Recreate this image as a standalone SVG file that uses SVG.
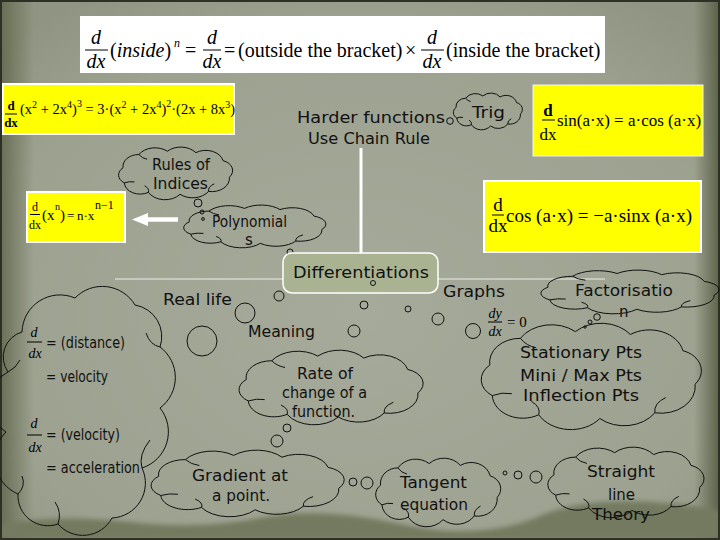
<svg xmlns="http://www.w3.org/2000/svg" width="720" height="540" viewBox="0 0 720 540">
<style>
.h{font-family:"DejaVu Sans","Liberation Sans",sans-serif;fill:#111;font-size:15px}
.m{font-family:"Liberation Serif","Times New Roman",serif;fill:#000}
.i{font-style:italic}
.b{font-weight:bold}
.bar{stroke:#000;stroke-width:1}
.bub{fill:none;stroke:#111;stroke-width:1}
.yel{fill:#ffff00;stroke:#ffffff;stroke-width:2}
</style>
<defs>
<radialGradient id="paper" cx="50%" cy="58%" r="70%">
<stop offset="0" stop-color="#a6aa9a"/>
<stop offset="0.75" stop-color="#9da190"/>
<stop offset="1" stop-color="#909482"/>
</radialGradient>
<linearGradient id="lband" x1="0" x2="1" y1="0" y2="0">
<stop offset="0" stop-color="#5f664a" stop-opacity="0.85"/>
<stop offset="1" stop-color="#5f664a" stop-opacity="0"/>
</linearGradient>
<linearGradient id="rband" x1="1" x2="0" y1="0" y2="0">
<stop offset="0" stop-color="#545a40" stop-opacity="0.9"/>
<stop offset="1" stop-color="#545a40" stop-opacity="0"/>
</linearGradient>
<filter id="soft" x="-10%" y="-10%" width="120%" height="120%"><feGaussianBlur stdDeviation="2.5"/></filter>
<path id="cloud" fill="none" stroke="#111" stroke-width="1" vector-effect="non-scaling-stroke" d="M -80,-10 A 25 25 0 0 1 -55,-38 A 30 30 0 0 1 -10,-45 A 30 30 0 0 1 35,-42 A 28 28 0 0 1 78,-25 A 22 22 0 0 1 88,10 A 28 28 0 0 1 55,40 A 30 30 0 0 1 10,46 A 30 30 0 0 1 -40,42 A 25 25 0 0 1 -78,22 A 20 20 0 0 1 -80,-10 Z M -55,-38 Q -50,-30 -42,-28 M 55,40 Q 54,30 64,24 M -40,42 Q -38,34 -46,28 M -78,22 Q -70,18 -62,20"/>
</defs>

<!-- background -->
<g id="background">
<rect x="0" y="0" width="720" height="540" fill="url(#paper)"/>
<rect x="0" y="0" width="34" height="540" fill="url(#lband)"/>
<rect x="694" y="0" width="26" height="540" fill="url(#rband)"/>
<path d="M0,540 L0,524 Q 60,514 130,522 T 260,518 T 400,524 T 540,516 T 720,510 L720,540 Z" fill="#737a5e" filter="url(#soft)"/>
<rect x="1" y="1" width="718" height="538" fill="none" stroke="#2e3026" stroke-width="2"/>
</g>

<!-- connectors -->
<g id="connectors">
<line x1="115" y1="279" x2="605" y2="279" stroke="#eeeeea" stroke-width="1.2"/>
<line x1="361" y1="253" x2="361" y2="148" stroke="#ffffff" stroke-width="3"/>
<line x1="178" y1="219.5" x2="145" y2="219.5" stroke="#ffffff" stroke-width="4.5"/>
<polygon points="132,219.5 148,213 148,226" fill="#ffffff"/>
</g>

<!-- chain rule formula -->
<g id="chain-rule-formula">
<rect x="80" y="16" width="525" height="57" fill="#ffffff"/>
<text class="m i" x="96" y="44" font-size="20" text-anchor="middle">d</text>
<line class="bar" x1="85" y1="50" x2="108" y2="50"/>
<text class="m i" x="96" y="68" font-size="20" text-anchor="middle">dx</text>
<text class="m" x="110" y="57" font-size="20">(<tspan class="i">inside</tspan>)</text>
<text class="m i" x="174" y="47" font-size="12">n</text>
<text class="m" x="185" y="57" font-size="20">=</text>
<text class="m i" x="212" y="44" font-size="20" text-anchor="middle">d</text>
<line class="bar" x1="203" y1="50" x2="221" y2="50"/>
<text class="m i" x="212" y="68" font-size="20" text-anchor="middle">dx</text>
<text class="m" x="224" y="57" font-size="20">=</text>
<text class="m" x="238" y="57" font-size="20">(outside the bracket)</text>
<text class="m" x="405" y="57" font-size="20">×</text>
<text class="m i" x="432" y="44" font-size="20" text-anchor="middle">d</text>
<line class="bar" x1="421" y1="50" x2="444" y2="50"/>
<text class="m i" x="432" y="68" font-size="20" text-anchor="middle">dx</text>
<text class="m" x="446" y="57" font-size="20">(inside the bracket)</text>
</g>

<!-- polynomial chain example -->
<g id="example-chain">
<rect class="yel" x="3" y="84" width="231" height="50"/>
<text class="m b" x="11" y="110" font-size="13" text-anchor="middle">d</text>
<line class="bar" x1="5" y1="114" x2="17" y2="114"/>
<text class="m b" x="11" y="127" font-size="13" text-anchor="middle">dx</text>
<text class="m" x="20" y="114" font-size="14.5">(x<tspan font-size="10" dy="-6">2</tspan><tspan dy="6"> + 2x</tspan><tspan font-size="10" dy="-6">4</tspan><tspan dy="6">)</tspan><tspan font-size="10" dy="-7">3</tspan><tspan dy="7">  = 3·(x</tspan><tspan font-size="10" dy="-6">2</tspan><tspan dy="6"> + 2x</tspan><tspan font-size="10" dy="-6">4</tspan><tspan dy="6">)</tspan><tspan font-size="10" dy="-7">2</tspan><tspan dy="7">·(2x + 8x</tspan><tspan font-size="10" dy="-6">3</tspan><tspan dy="6">)</tspan></text>
</g>

<!-- sin example -->
<g id="example-sin">
<rect x="533" y="85" width="170" height="71" fill="#ffff00" stroke="#f4f4e4" stroke-width="1"/>
<text class="m b" x="548" y="116" font-size="17" text-anchor="middle">d</text>
<line class="bar" x1="542" y1="120" x2="555" y2="120"/>
<text class="m" x="548" y="140" font-size="17" text-anchor="middle">dx</text>
<text class="m" x="557" y="126" font-size="17">sin(a·x) = a·cos (a·x)</text>
</g>

<!-- cos example -->
<g id="example-cos">
<rect class="yel" x="484" y="181" width="217" height="71" stroke-width="3"/>
<text class="m" x="498" y="211" font-size="19" text-anchor="middle">d</text>
<line class="bar" x1="492" y1="215" x2="504" y2="215"/>
<text class="m" x="498" y="232" font-size="19" text-anchor="middle">dx</text>
<text class="m" x="506" y="222" font-size="19">cos (a·x) = −a·sinx (a·x)</text>
</g>

<!-- power rule example -->
<g id="example-power">
<rect class="yel" x="27" y="192" width="98" height="50"/>
<text class="m" x="35" y="211" font-size="12" text-anchor="middle">d</text>
<line class="bar" x1="30" y1="214.5" x2="40" y2="214.5"/>
<text class="m" x="35" y="229" font-size="12" text-anchor="middle">dx</text>
<text class="m" x="42" y="220" font-size="15">(x</text>
<text class="m" x="55" y="210" font-size="10">n</text>
<text class="m" x="60" y="220" font-size="15">)</text>
<text class="m" x="67" y="220" font-size="13">=</text>
<text class="m" x="77" y="220" font-size="13">n·x</text>
<text class="m" x="95" y="209" font-size="12">n−1</text>
</g>

<!-- Harder functions -->
<g id="harder-functions">
<text class="h" x="297" y="123" font-size="16" textLength="148" lengthAdjust="spacingAndGlyphs">Harder functions</text>
<text class="h" x="308" y="144" font-size="16" textLength="122" lengthAdjust="spacingAndGlyphs">Use Chain Rule</text>
<circle class="bub" cx="450" cy="121" r="3.3"/>
</g>

<g id="trig">
<use href="#cloud" transform="translate(486.7,110.8) scale(0.383,0.33)"/>
<text class="h" x="472" y="118" font-size="16" textLength="33" lengthAdjust="spacingAndGlyphs">Trig</text>
</g>

<g id="rules-of-indices">
<use href="#cloud" transform="translate(173.7,172.5) scale(0.633,0.473)"/>
<text class="h" x="152" y="170" font-size="14" textLength="58" lengthAdjust="spacingAndGlyphs">Rules of</text>
<text class="h" x="153" y="189" font-size="14" textLength="55" lengthAdjust="spacingAndGlyphs">Indices</text>
<circle class="bub" cx="198" cy="203" r="4"/>
<circle class="bub" cx="202" cy="212" r="2"/>
<circle class="bub" cx="203" cy="219" r="1.4"/>
</g>

<g id="polynomials">
<use href="#cloud" transform="translate(252.4,225.7) scale(0.789,0.384)"/>
<text class="h" x="212" y="227" font-size="14" textLength="75" lengthAdjust="spacingAndGlyphs">Polynomial</text>
<text class="h" x="245" y="245" font-size="14">s</text>
<circle class="bub" cx="290" cy="252" r="3"/>
<circle class="bub" cx="309" cy="261" r="3"/>
</g>

<g id="differentiations">
<rect x="283" y="253" width="155" height="40" rx="9" fill="#a9b391" stroke="#ffffff" stroke-width="1.5"/>
<text class="h" x="293" y="278" font-size="16" textLength="136" lengthAdjust="spacingAndGlyphs">Differentiations</text>
<circle class="bub" cx="373" cy="283" r="2.5"/>
</g>

<g id="real-life">
<path fill="none" stroke="#111" stroke-width="1" d="M 22,332 A 38 38 0 0 1 75,298 A 38 38 0 0 1 135,305 A 32 32 0 0 1 160,347 A 38 38 0 0 1 160,408 A 38 38 0 0 1 142,468 A 35 35 0 0 1 112,518 A 33 33 0 0 1 58,524 A 30 30 0 0 1 18,494 A 38 38 0 0 1 6,432 A 34 34 0 0 1 8,372 A 26 26 0 0 1 22,332 Z M 160,347 Q 150,345 146,333 M 142,468 Q 138,455 150,440 M 58,524 Q 62,512 55,502 M 18,494 Q 26,486 22,476 M 8,372 Q 16,368 20,360"/>
<text class="h" x="163" y="305" font-size="16" textLength="69" lengthAdjust="spacingAndGlyphs">Real life</text>
<text class="m i" x="34" y="337" font-size="14" text-anchor="middle">d</text>
<line class="bar" x1="27" y1="342" x2="42" y2="342"/>
<text class="m i" x="35" y="358" font-size="14" text-anchor="middle" fill="#333">dx</text>
<text class="h" x="46" y="348" font-size="15" textLength="79" lengthAdjust="spacingAndGlyphs">= (distance)</text>
<text class="h" x="46" y="382" font-size="15" textLength="62" lengthAdjust="spacingAndGlyphs">= velocity</text>
<text class="m i" x="34" y="428" font-size="14" text-anchor="middle">d</text>
<line class="bar" x1="27" y1="435" x2="42" y2="435"/>
<text class="m i" x="35" y="452" font-size="14" text-anchor="middle" fill="#333">dx</text>
<text class="h" x="46" y="440" font-size="15" textLength="74" lengthAdjust="spacingAndGlyphs">= (velocity)</text>
<text class="h" x="46" y="473" font-size="15" textLength="94" lengthAdjust="spacingAndGlyphs">= acceleration</text>
<circle class="bub" cx="279" cy="296" r="5"/>
<circle class="bub" cx="245" cy="313" r="10"/>
<circle class="bub" cx="202" cy="341" r="15"/>
</g>

<g id="meaning">
<text class="h" x="248" y="337" font-size="16" textLength="67" lengthAdjust="spacingAndGlyphs">Meaning</text>
<circle class="bub" cx="364" cy="305" r="4"/>
<circle class="bub" cx="354" cy="331" r="6"/>
</g>

<g id="rate-of-change">
<use href="#cloud" transform="translate(328,386.2) scale(1.022,0.67)"/>
<text class="h" x="297" y="379" font-size="14" textLength="56" lengthAdjust="spacingAndGlyphs">Rate of</text>
<text class="h" x="282" y="398" font-size="14" textLength="85" lengthAdjust="spacingAndGlyphs">change of a</text>
<text class="h" x="292" y="417" font-size="14" textLength="63" lengthAdjust="spacingAndGlyphs">function.</text>
<circle class="bub" cx="287" cy="428" r="4"/>
<circle class="bub" cx="277" cy="441" r="6"/>
</g>

<g id="gradient-at-point">
<use href="#cloud" transform="translate(244.4,482.3) scale(1.072,0.598)"/>
<text class="h" x="192" y="481" font-size="16" textLength="96" lengthAdjust="spacingAndGlyphs">Gradient at</text>
<text class="h" x="212" y="501" font-size="16" textLength="58" lengthAdjust="spacingAndGlyphs">a point.</text>
<circle class="bub" cx="353" cy="482" r="4"/>
<circle class="bub" cx="367" cy="483" r="6"/>
</g>

<g id="tangent-equation">
<use href="#cloud" transform="translate(436.1,491.3) scale(0.694,0.616)"/>
<text class="h" x="400" y="488" font-size="16" textLength="67" lengthAdjust="spacingAndGlyphs">Tangent</text>
<text class="h" x="400" y="510" font-size="16" textLength="68" lengthAdjust="spacingAndGlyphs">equation</text>
<circle class="bub" cx="505" cy="473" r="2"/>
<circle class="bub" cx="518" cy="475" r="4"/>
<circle class="bub" cx="536" cy="477" r="6"/>
</g>

<g id="straight-line-theory">
<use href="#cloud" transform="translate(623.3,481.2) scale(0.867,0.634)"/>
<text class="h" x="587" y="477" font-size="16" textLength="68" lengthAdjust="spacingAndGlyphs">Straight</text>
<text class="h" x="608" y="500" font-size="16" textLength="27" lengthAdjust="spacingAndGlyphs">line</text>
<text class="h" x="592" y="520" font-size="16" textLength="58" lengthAdjust="spacingAndGlyphs">Theory</text>
</g>

<g id="graphs">
<text class="h" x="443" y="297" font-size="16" textLength="62" lengthAdjust="spacingAndGlyphs">Graphs</text>
<circle class="bub" cx="408" cy="309" r="3"/>
<circle class="bub" cx="438" cy="319" r="6"/>
<circle class="bub" cx="473" cy="331" r="7.5"/>
<text class="m i" x="495" y="318" font-size="14" text-anchor="middle">dy</text>
<line class="bar" x1="488" y1="322" x2="502" y2="322"/>
<text class="m i" x="495" y="336" font-size="14" text-anchor="middle">dx</text>
<text class="m" x="507" y="327" font-size="15">= 0</text>
</g>

<g id="factorisation">
<use href="#cloud" transform="translate(627,291.2) scale(0.989,0.393)"/>
<text class="h" x="575" y="296" font-size="15" textLength="98" lengthAdjust="spacingAndGlyphs">Factorisatio</text>
<text class="h" x="619" y="317" font-size="15">n</text>
<circle class="bub" cx="597" cy="317" r="3.3"/>
<circle class="bub" cx="590" cy="322" r="2"/>
<circle class="bub" cx="585" cy="327" r="1.2"/>
</g>

<g id="stationary-points">
<use href="#cloud" transform="translate(587.6,374.6) scale(1.222,0.955)"/>
<text class="h" x="520" y="358" font-size="16" textLength="122" lengthAdjust="spacingAndGlyphs">Stationary Pts</text>
<text class="h" x="520" y="381" font-size="16" textLength="122" lengthAdjust="spacingAndGlyphs">Mini / Max Pts</text>
<text class="h" x="523" y="401" font-size="16" textLength="116" lengthAdjust="spacingAndGlyphs">Inflection Pts</text>
</g>
</svg>
